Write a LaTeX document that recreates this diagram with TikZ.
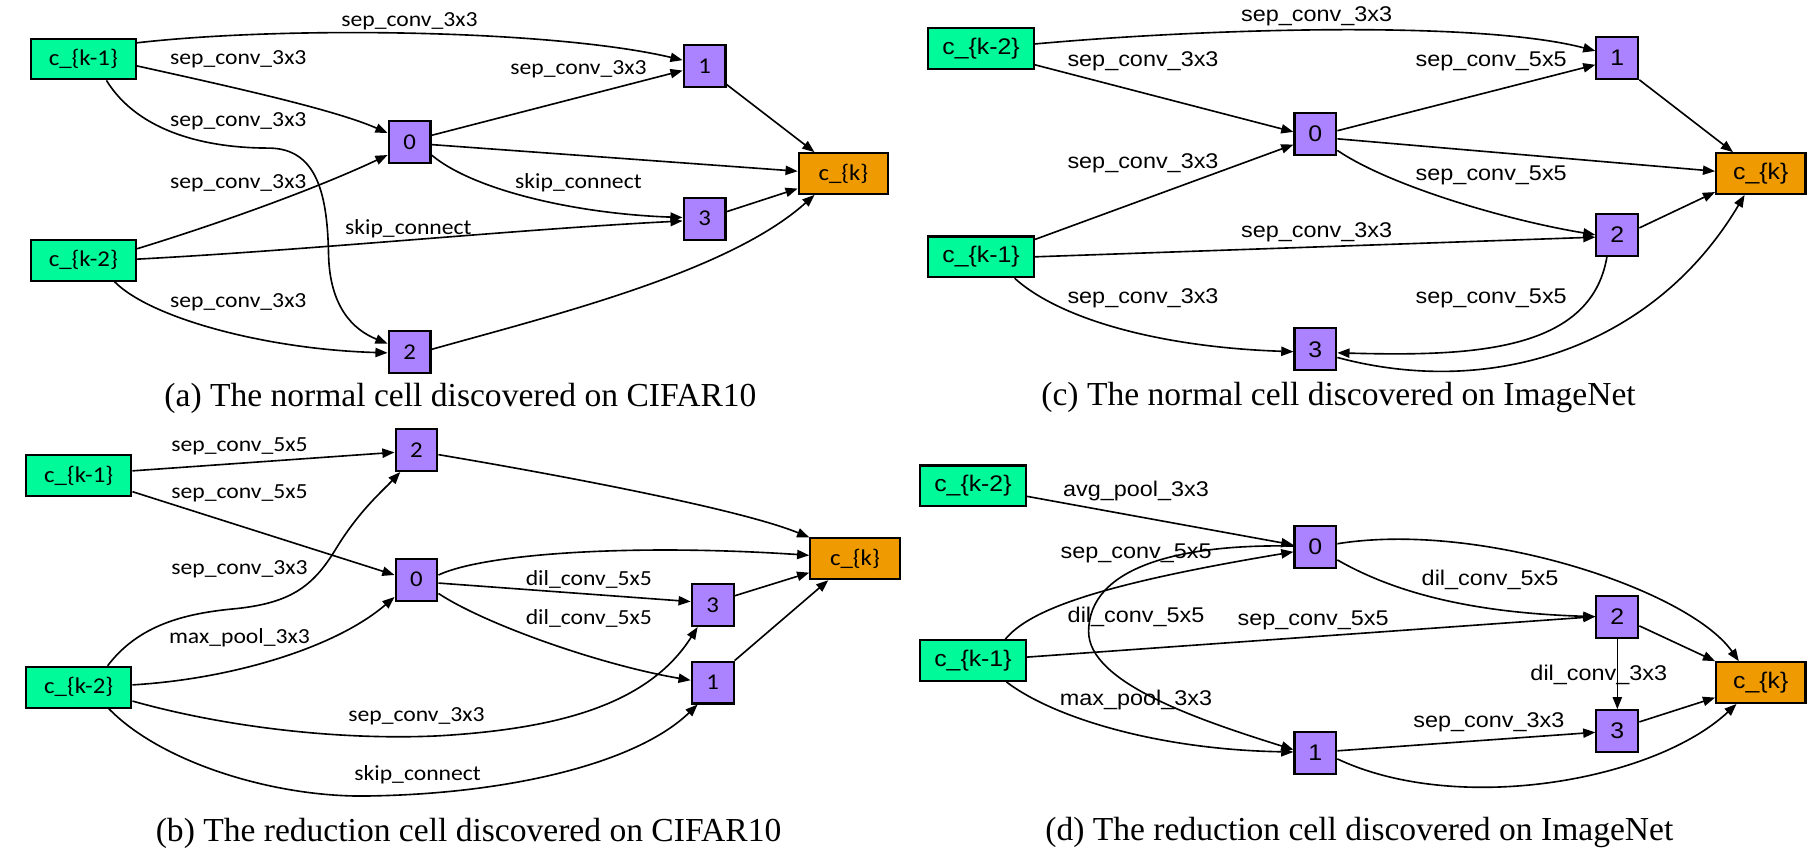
\documentclass[tikz,border=0pt]{standalone}
\usepackage{fontspec}
\setmainfont{Liberation Serif}
\newfontfamily\calfont[FakeStretch=1.1]{Carlito}
\newfontfamily\arifont[FakeStretch=1.1]{Liberation Sans}
\usetikzlibrary{arrows.meta}
\definecolor{inputgreen}{HTML}{00FA9A}
\definecolor{nodepurple}{HTML}{AB82FF}
\definecolor{outorange}{HTML}{EE9A00}

\begin{document}
\begin{tikzpicture}[x=1pt,y=-1pt,
  box/.style={draw=black, line width=1.8pt, inner sep=0pt},
  inbox/.style={box, fill=inputgreen, minimum width=91.2pt, minimum height=35.2pt},
  opbox/.style={box, fill=nodepurple, minimum width=36.2pt, minimum height=36.2pt},
  outbox/.style={box, fill=outorange, minimum width=77.2pt, minimum height=35.2pt},
  cal/.style={font=\calfont\fontsize{19.5pt}{22pt}\selectfont},
  ari/.style={font=\arifont\fontsize{19.5pt}{22pt}\selectfont},
  lblA/.style={inner sep=0pt, font=\calfont\fontsize{18.6pt}{22pt}\selectfont},
  lblC/.style={inner sep=0pt, font=\arifont\fontsize{18.4pt}{22pt}\selectfont},
  caption/.style={inner sep=0pt, font=\fontsize{29pt}{34pt}\selectfont},
  edge/.style={line width=1.4pt, -{Triangle[length=10.5pt,width=8pt]}}
]
\useasboundingbox (0,0) rectangle (1568,735);

% ---------------- (a) normal cell, CIFAR10 ----------------
\begin{scope}[cal]
\node[inbox]  (akm1) at (72,51)   {c\_\{k-1\}};
\node[inbox]  (akm2) at (72,225)  {c\_\{k-2\}};
\node[opbox]  (a0)   at (354,123) {0};
\node[opbox]  (a1)   at (609,57)  {1};
\node[opbox]  (a3)   at (609,189) {3};
\node[opbox]  (a2)   at (354,304) {2};
\node[outbox] (ak)   at (729,150) {c\_\{k\}};
\end{scope}

\draw[edge] ([yshift=14pt]akm1.east) .. controls (250,22) and (480,26) .. ([yshift=5pt]a1.west);
\draw[edge] ([yshift=-6pt]akm1.east) .. controls (200,75) and (290,95) .. ([yshift=8pt]a0.west);
\draw[edge] ([xshift=20pt]akm1.south) .. controls (120,115) and (180,128) .. (232,128)
            .. controls (275,128) and (283,170) .. (284,220)
            .. controls (285,265) and (305,285) .. ([yshift=7pt]a2.west);
\draw[edge] ([yshift=10pt]akm2.east) .. controls (200,190) and (280,160) .. ([yshift=-11pt]a0.west);
\draw[edge] ([yshift=1pt]akm2.east) .. controls (270,216) and (450,198) .. ([yshift=-2pt]a3.west);
\draw[edge] ([xshift=27pt]akm2.south) .. controls (130,275) and (230,302) .. ([yshift=-1pt]a2.west);
\draw[edge] ([yshift=6pt]a0.east) -- ([yshift=-4pt]a1.west);
\draw[edge] ([yshift=-2pt]a0.east) -- ([yshift=2pt]ak.west);
\draw[edge] ([yshift=-11pt]a0.east) .. controls (410,165) and (500,185) .. ([yshift=1pt]a3.west);
\draw[edge] ([yshift=3pt]a1.south east) -- ([xshift=-25pt]ak.north);
\draw[edge] ([yshift=6pt]a3.east) -- ([yshift=-13pt]ak.west);
\draw[edge] ([yshift=2pt]a2.east) .. controls (480,272) and (630,235) .. ([xshift=-25pt]ak.south);

\node[lblA] (la1) at (354,18)  {sep\_conv\_3x3};
\node[lblA] (la2) at (206,51)  {sep\_conv\_3x3};
\node[lblA] (la3) at (500,60)  {sep\_conv\_3x3};
\node[lblA] (la4) at (206,105) {sep\_conv\_3x3};
\node[lblA] (la5) at (206,158) {sep\_conv\_3x3};
\node[lblA] (la6) at (500,158) {skip\_connect};
\node[lblA] (la7) at (353,198) {skip\_connect};
\node[lblA] (la8) at (206,261) {sep\_conv\_3x3};

\node[caption] (capa) at (398,344) {(a) The normal cell discovered on CIFAR10};

% ---------------- (c) normal cell, ImageNet ----------------
\begin{scope}[ari]
\node[inbox]  (ckm2) at (848,42)   {c\_\{k-2\}};
\node[inbox]  (ckm1) at (848,222)  {c\_\{k-1\}};
\node[opbox]  (c0)   at (1137,116) {0};
\node[opbox]  (c1)   at (1398,50)  {1};
\node[opbox]  (c2)   at (1398,203) {2};
\node[opbox]  (c3)   at (1137,302) {3};
\node[outbox] (ck)   at (1522,150) {c\_\{k\}};
\end{scope}

\draw[edge] ([yshift=4pt]ckm2.east) .. controls (1050,24) and (1280,18) .. ([yshift=6pt]c1.west);
\draw[edge] ([yshift=-14pt]ckm2.east) -- ([yshift=2pt]c0.west);
\draw[edge] ([yshift=15pt]ckm1.east) -- ([yshift=-9pt]c0.west);
\draw[edge] (ckm1.east) -- ([yshift=-2pt]c2.west);
\draw[edge] ([xshift=29pt]ckm1.south) .. controls (915,275) and (1000,300) .. ([yshift=-2pt]c3.west);
\draw[edge] ([yshift=3pt]c0.east) -- ([yshift=-6pt]c1.west);
\draw[edge] ([yshift=-4pt]c0.east) -- ([yshift=2pt]ck.west);
\draw[edge] ([yshift=-14pt]c0.east) .. controls (1200,160) and (1300,190) .. (c2.west);
\draw[edge] (c1.south east) -- ([xshift=-24pt]ck.north);
\draw[edge] ([yshift=6pt]c2.east) -- ([yshift=-16pt]ck.west);
\draw[edge] ([xshift=-9pt]c2.south) .. controls (1375,305) and (1270,308) .. ([yshift=-3pt]c3.east);
\draw[edge] ([yshift=-7pt]c3.east) .. controls (1290,345) and (1430,300) .. ([xshift=-14pt]ck.south);

\node[lblC] (lc1) at (1138,14)  {sep\_conv\_3x3};
\node[lblC] (lc2) at (988,53)   {sep\_conv\_3x3};
\node[lblC] (lc3) at (1289,53)  {sep\_conv\_5x5};
\node[lblC] (lc4) at (988,141)  {sep\_conv\_3x3};
\node[lblC] (lc5) at (1289,152) {sep\_conv\_5x5};
\node[lblC] (lc6) at (1138,201) {sep\_conv\_3x3};
\node[lblC] (lc7) at (988,258)  {sep\_conv\_3x3};
\node[lblC] (lc8) at (1289,258) {sep\_conv\_5x5};

\node[caption] (capc) at (1157,344) {(c) The normal cell discovered on ImageNet};

% ---------------- (b) reduction cell, CIFAR10 ----------------
\begin{scope}[cal]
\node[inbox]  (bkm1) at (68,411)  {c\_\{k-1\}};
\node[inbox]  (bkm2) at (68,594)  {c\_\{k-2\}};
\node[opbox]  (b2)   at (360,389) {2};
\node[opbox]  (b0)   at (360,501) {0};
\node[opbox]  (b3)   at (616,523) {3};
\node[opbox]  (b1)   at (616,590) {1};
\node[outbox] (bk)   at (739,483) {c\_\{k\}};
\end{scope}

\draw[edge] ([yshift=4pt]bkm1.east) -- ([yshift=-2pt]b2.west);
\draw[edge] ([yshift=-14pt]bkm1.east) -- ([yshift=4pt]b0.west);
\draw[edge] ([xshift=25pt]bkm2.north) .. controls (120,540) and (160,530) .. (205,526)
            .. controls (250,521) and (270,508) .. (290,475)
            .. controls (310,442) and (330,425) .. ([xshift=-14pt]b2.south);
\draw[edge] ([yshift=2pt]bkm2.east) .. controls (200,587) and (290,560) .. ([yshift=-15pt]b0.west);
\draw[edge] ([yshift=-12pt]bkm2.east) .. controls (200,630) and (300,640) .. (380,636)
            .. controls (480,630) and (560,610) .. ([xshift=-13pt]b3.south);
\draw[edge] ([xshift=26pt]bkm2.south) .. controls (140,660) and (240,690) .. (320,688)
            .. controls (440,686) and (550,660) .. ([xshift=-13pt]b1.south);
\draw[edge] ([yshift=4pt]b0.east) .. controls (420,478) and (550,470) .. ([yshift=3pt]bk.west);
\draw[edge] ([yshift=-3pt]b0.east) -- ([yshift=3pt]b3.west);
\draw[edge] ([yshift=-12pt]b0.east) .. controls (420,540) and (520,575) .. ([yshift=2pt]b1.west);
\draw[edge] ([yshift=-4pt]b2.east) .. controls (480,410) and (640,440) .. (bk.north west);
\draw[edge] ([yshift=8pt]b3.east) -- ([yshift=-12pt]bk.west);
\draw[edge] (b1.north east) -- ([xshift=-23pt]bk.south);

\node[lblA] (lb1) at (207,386) {sep\_conv\_5x5};
\node[lblA] (lb2) at (207,426) {sep\_conv\_5x5};
\node[lblA] (lb3) at (207,492) {sep\_conv\_3x3};
\node[lblA] (lb4) at (207,551) {max\_pool\_3x3};
\node[lblA] (lb5) at (509,501) {dil\_conv\_5x5};
\node[lblA] (lb6) at (509,535) {dil\_conv\_5x5};
\node[lblA] (lb7) at (360,619) {sep\_conv\_3x3};
\node[lblA] (lb8) at (361,670) {skip\_connect};

\node[caption] (capb) at (405,720) {(b) The reduction cell discovered on CIFAR10};

% ---------------- (d) reduction cell, ImageNet ----------------
\begin{scope}[ari]
\node[inbox]  (dkm2) at (841,420)  {c\_\{k-2\}};
\node[inbox]  (dkm1) at (841,571)  {c\_\{k-1\}};
\node[opbox]  (d0)   at (1137,473) {0};
\node[opbox]  (d2)   at (1398,533) {2};
\node[opbox]  (d3)   at (1398,632) {3};
\node[opbox]  (d1)   at (1137,651) {1};
\node[outbox] (dk)   at (1522,590) {c\_\{k\}};
\end{scope}

\draw[edge] ([yshift=-9pt]dkm2.east) -- ([yshift=2pt]d0.west);
\draw[edge] ([xshift=28pt]dkm1.north) .. controls (890,527) and (950,505) .. ([yshift=-4pt]d0.west);
\draw[edge] ([yshift=1pt]d0.west) .. controls (1020,470) and (941,490) .. (941,546)
            .. controls (941,590) and (1035,622) .. ([yshift=3pt]d1.west);
\draw[edge] ([xshift=29pt]dkm1.south) .. controls (910,620) and (1000,648) .. ([yshift=1pt]d1.west);
\draw[edge] ([yshift=3pt]dkm1.east) -- (d2.west);
\draw[edge] ([yshift=3pt]d0.east) .. controls (1280,450) and (1460,510) .. ([xshift=-19pt]dk.north);
\draw[edge] ([yshift=-11pt]d0.east) .. controls (1210,515) and (1280,530) .. (d2.west);
\draw[edge] (d2.south) -- (d3.north);
\draw[edge] ([yshift=-8pt]d2.east) -- (dk.north west);
\draw[edge] ([yshift=8pt]d3.east) -- ([yshift=-13pt]dk.west);
\draw[edge] ([yshift=2pt]d1.east) -- ([yshift=-1pt]d3.west);
\draw[edge] ([yshift=-5pt]d1.east) .. controls (1260,705) and (1430,675) .. ([xshift=-21pt]dk.south);

\node[lblC] (ld1) at (982,424)  {avg\_pool\_3x3};
\node[lblC] (ld2) at (982,478)  {sep\_conv\_5x5};
\node[lblC] (ld3) at (982,533)  {dil\_conv\_5x5};
\node[lblC] (ld4) at (982,605)  {max\_pool\_3x3};
\node[lblC] (ld5) at (1135,536) {sep\_conv\_5x5};
\node[lblC] (ld6) at (1288,501) {dil\_conv\_5x5};
\node[lblC] (ld7) at (1382,583) {dil\_conv\_3x3};
\node[lblC] (ld8) at (1287,624) {sep\_conv\_3x3};

\node[caption] (capd) at (1175,720) {(d) The reduction cell discovered on ImageNet};

\end{tikzpicture}
\end{document}
